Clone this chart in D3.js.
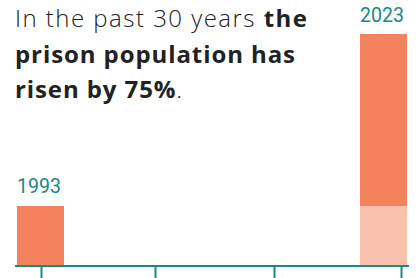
<!DOCTYPE html>
<html>
<head>
<meta charset="utf-8">
<script src="https://cdn.jsdelivr.net/npm/d3@7"></script>
<style>
  body { margin: 0; background: #fff; }
  svg { display: block; }
</style>
</head>
<body>
<svg width="417" height="278"></svg>
<script>
// data
const years = ["1993", "2023"];
const basePop = [44600, 44600];     // 1993 level, shown on both bars
const risePop = [0, 33450];         // increase on top of the 1993 level
const tickYears = [1993, 2003, 2013, 2023];
const titleLines = [
  [{t: "In the past 30 years ", b: false}, {t: "the", b: true}],
  [{t: "prison population has", b: true}],
  [{t: "risen by 75%", b: true}, {t: ".", b: false}]
];
const titleWidths = [292, 280, 167];

const teal = "#178a85",
      dark = "#f4825c",
      light = "#fac2ae";

var svg = d3.select("svg"),
    width = +svg.attr("width"),
    height = +svg.attr("height");

const axisY = 266;

var x = d3.scaleBand()
    .domain(years)
    .range([17, 407])
    .paddingInner(0.863)
    .paddingOuter(0);

var xTick = d3.scaleLinear()
    .domain(tickYears)
    .range([41, 155, 274, 401]);

var y = d3.scaleLinear()
    .domain([33125, 78050])
    .range([265, 34]);

// bars
let bars = svg.selectAll(".bar")
    .data(years)
    .enter().append("g")
    .attr("class", "bar");

bars.append("rect")
    .attr("x", d => x(d))
    .attr("width", x.bandwidth())
    .attr("y", (d, i) => y(basePop[i]))
    .attr("height", (d, i) => y.range()[0] - y(basePop[i]))
    .attr("fill", (d, i) => risePop[i] > 0 ? light : dark);

bars.filter((d, i) => risePop[i] > 0).append("rect")
    .attr("x", d => x(d))
    .attr("width", x.bandwidth())
    .attr("y", d => { let i = years.indexOf(d); return y(basePop[i] + risePop[i]); })
    .attr("height", d => { let i = years.indexOf(d); return y(basePop[i]) - y(basePop[i] + risePop[i]); })
    .attr("fill", dark);

bars.append("text")
    .attr("x", d => x(d))
    .attr("y", (d, i) => y(basePop[i] + risePop[i]) - 12.5)
    .attr("fill", teal)
    .style("font-family", "Roboto, sans-serif")
    .style("font-size", "19.5px")
    .text(d => d);

// axis
var xAxis = d3.axisBottom(xTick)
    .tickValues(tickYears)
    .tickSize(12)
    .tickSizeOuter(0)
    .tickFormat("");

var gX = svg.append("g")
    .attr("transform", `translate(0,${axisY})`)
    .call(xAxis);
gX.select(".domain").remove();
gX.selectAll(".tick line").attr("stroke", teal).attr("stroke-width", 2);

svg.append("line")
    .attr("x1", 15).attr("x2", 409)
    .attr("y1", axisY).attr("y2", axisY)
    .attr("stroke", teal)
    .attr("stroke-width", 2);

// title, one text per line so each can be stretched to the reference width
titleLines.forEach((line, li) => {
  let t = svg.append("text")
    .attr("x", 15)
    .attr("y", 27 + li * 35.5)
    .attr("fill", "#222")
    .attr("textLength", titleWidths[li])
    .attr("lengthAdjust", "spacing")
    .style("font-family", "'Open Sans', sans-serif")
    .style("font-size", "24px");
  line.forEach(seg => {
    t.append("tspan")
      .style("font-weight", seg.b ? 700 : 300)
      .text(seg.t);
  });
});
</script>
</body>
</html>
